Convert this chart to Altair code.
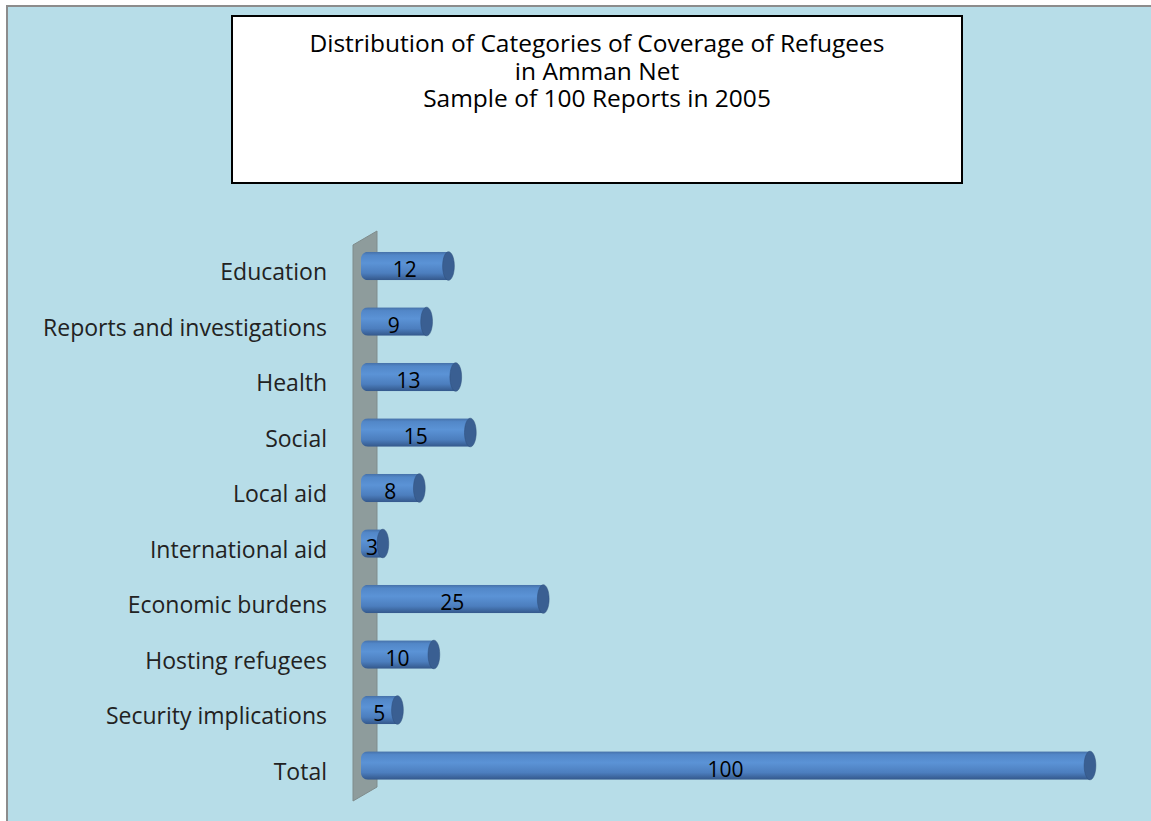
import altair as alt
import pandas as pd

categories = ["Education", "Reports and investigations", "Health", "Social", "Local aid",
              "International aid", "Economic burdens", "Hosting refugees",
              "Security implications", "Total"]
values = [12, 9, 13, 15, 8, 3, 25, 10, 5, 100]
title_lines = ["Distribution of Categories of Coverage of Refugees", "in Amman Net",
               "Sample of 100 Reports in 2005"]

df = pd.DataFrame({"category": categories, "value": values})

FONT = "Open Sans"
xscale = alt.Scale(domain=[0, 100], range=[361, 1090], nice=False, zero=True)
yscale = alt.Scale(domain=categories, range=[238.25, 793.25], paddingInner=0.486, paddingOuter=0.243)

X = alt.X("value:Q", scale=xscale, axis=None)
Y = alt.Y("category:N", scale=yscale, axis=None, sort=categories)

one = pd.DataFrame({"k": [0]})

panel = alt.Chart(one).mark_rect(fill="#B7DDE8", stroke="#8C8C8C", strokeWidth=2).encode(
    x=alt.value(7), x2=alt.value(1170), y=alt.value(6), y2=alt.value(840))

title_box = alt.Chart(one).mark_rect(fill="white", stroke="black", strokeWidth=2).encode(
    x=alt.value(232), x2=alt.value(962), y=alt.value(16), y2=alt.value(183))

title_text = alt.Chart(one).mark_text(font=FONT, fontSize=24.5, color="#000000", align="center",
                                      baseline="middle", lineHeight=27.5,
                                      text=title_lines).encode(
    x=alt.value(597), y=alt.value(45))

wall_path = "M -0.0421 -0.951 L 0.0421 -1 L 0.0421 0.951 L -0.0421 1 Z"
wall = alt.Chart(one).mark_point(shape=wall_path, filled=True, fill="#8E9C9C", opacity=1,
                                 stroke="#7F8C8C", strokeWidth=1, size=324900).encode(
    x=alt.value(365), y=alt.value(516))

grad = alt.Gradient(gradient="linear", x1=0, x2=0, y1=0, y2=1, stops=[
    alt.GradientStop(offset=0, color="#456FA6"),
    alt.GradientStop(offset=0.12, color="#5287C8"),
    alt.GradientStop(offset=0.4, color="#5B93D6"),
    alt.GradientStop(offset=0.75, color="#4C7EBE"),
    alt.GradientStop(offset=1, color="#33578A")])

bars = alt.Chart(df).mark_bar(color=grad, cornerRadiusTopLeft=7, cornerRadiusBottomLeft=7).encode(
    x=X, x2=alt.value(361), y=Y)

cap_path = "M 0 -1 A 0.41 1 0 1 1 0 1 A 0.41 1 0 1 1 0 -1 Z"
caps = alt.Chart(df).mark_point(shape=cap_path, filled=True, fill="#3A5F92", opacity=1,
                                stroke="#2F4F7A", strokeWidth=0.5, size=820).encode(x=X, y=Y)

vals = alt.Chart(df).transform_calculate(half="datum.value / 2").mark_text(
    font=FONT, fontSize=21, color="#000000", align="center", baseline="middle", dy=5).encode(
    x=alt.X("half:Q", scale=xscale, axis=None), y=Y, text="value:Q")

labels = alt.Chart(df).mark_text(font=FONT, fontSize=23, color="#222222", align="right",
                                 baseline="middle", dy=7).encode(
    x=alt.value(327), y=Y, text="category:N")

chart = alt.layer(panel, title_box, title_text, wall, bars, caps, vals, labels).properties(
    width=1151, height=821, padding=0, autosize=alt.AutoSizeParams(type="none"),
    background="white").configure_view(stroke=None)

chart.save("out.html", embed_options={"renderer": "svg", "actions": False})
